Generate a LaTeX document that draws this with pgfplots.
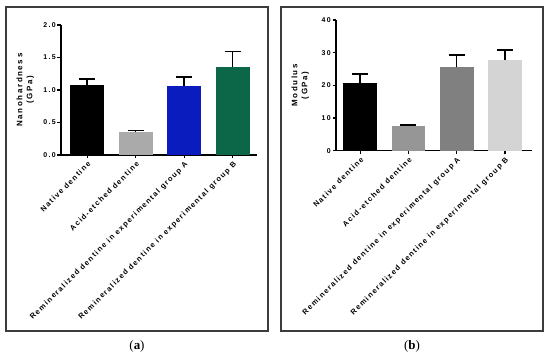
\documentclass[border=0pt]{standalone}
\usepackage{fontspec}
\setmainfont{Liberation Serif}
\newfontfamily\lab[LetterSpace=18]{Liberation Sans}
\newfontfamily\labb[LetterSpace=20]{Liberation Sans}
\usepackage{pgfplots}
\pgfplotsset{compat=1.18}
\definecolor{cblue}{RGB}{10,28,190}
\definecolor{cgreen}{RGB}{12,102,72}
\definecolor{cgreyA}{RGB}{170,170,170}
\definecolor{cgreyB}{RGB}{150,150,150}
\definecolor{cdgrey}{RGB}{128,128,128}
\definecolor{clgrey}{RGB}{212,212,212}
\definecolor{frame}{RGB}{60,60,60}
\pgfplotsset{
  prism/.style={
    scale only axis,
    width=196bp,
    anchor=south west,
    axis lines*=left,
    axis line style={line width=1.3bp, black, -},
    tick style={line width=1.1bp, black},
    major tick length=3.5bp,
    tick align=outside,
    xtick={0,1,2,3},
    xticklabels={Native dentine, Acid-etched dentine, Remineralized dentine in experimental group A, Remineralized dentine in experimental group B},
    x tick label style={rotate=45, anchor=north east, font=\lab\bfseries\fontsize{7.5}{8}\selectfont, inner sep=1.5bp},
    y tick label style={font=\labb\bfseries\fontsize{7}{8}\selectfont, inner sep=1.5bp},
    /pgf/number format/assume math mode=true,
    ylabel style={at={(axis description cs:-0.12,0.5)}, anchor=south, rotate=0, align=center, font=\labb\bfseries\fontsize{8}{10}\selectfont},
    ymin=0,
    bar width=0.7,
    ybar, bar shift=0pt,
    error bars/y dir=plus,
    error bars/y explicit,
    error bars/error bar style={line width=1.5bp, black},
    error bars/error mark options={rotate=90, mark size=8bp, line width=1.5bp, black},
  }
}
\begin{document}
\begin{tikzpicture}
\useasboundingbox (0,0) rectangle (550bp,358bp);
\draw[line width=1.1bp, frame] (6bp,27bp) rectangle (268bp,351bp);
\draw[line width=1.1bp, frame] (281bp,27bp) rectangle (543bp,351bp);
\begin{axis}[prism, at={(61bp,203bp)}, height=130bp,
  xmin=-0.54, xmax=3.5, ymax=2.0,
  ytick={0,0.5,1,1.5,2},
  yticklabel style={/pgf/number format/.cd, fixed, fixed zerofill, precision=1},
  ylabel={Nanohardness\\(GPa)}]
\addplot[fill=black, draw=none] coordinates {(0,1.08) +- (0,0.09)};
\addplot[fill=cgreyA, draw=none] coordinates {(1,0.36) +- (0,0.02)};
\addplot[fill=cblue, draw=none] coordinates {(2,1.06) +- (0,0.14)};
\addplot[fill=cgreen, draw=none] coordinates {(3,1.36) +- (0,0.23)};
\end{axis}
\begin{axis}[prism, at={(336bp,207.3bp)}, height=130.7bp,
  xmin=-0.5, xmax=3.56, ymax=40,
  ytick={0,10,20,30,40},
  ylabel={Modulus\\(GPa)}]
\addplot[fill=black, draw=none] coordinates {(0,20.8) +- (0,2.7)};
\addplot[fill=cgreyB, draw=none] coordinates {(1,7.5) +- (0,0.35)};
\addplot[fill=cdgrey, draw=none] coordinates {(2,25.5) +- (0,3.8)};
\addplot[fill=clgrey, draw=none] coordinates {(3,27.7) +- (0,3.1)};
\end{axis}
\node[font=\fontsize{13}{15}\selectfont] at (137bp,12bp) {(\textbf{a})};
\node[font=\fontsize{13}{15}\selectfont] at (412bp,12bp) {(\textbf{b})};
\end{tikzpicture}
\end{document}
